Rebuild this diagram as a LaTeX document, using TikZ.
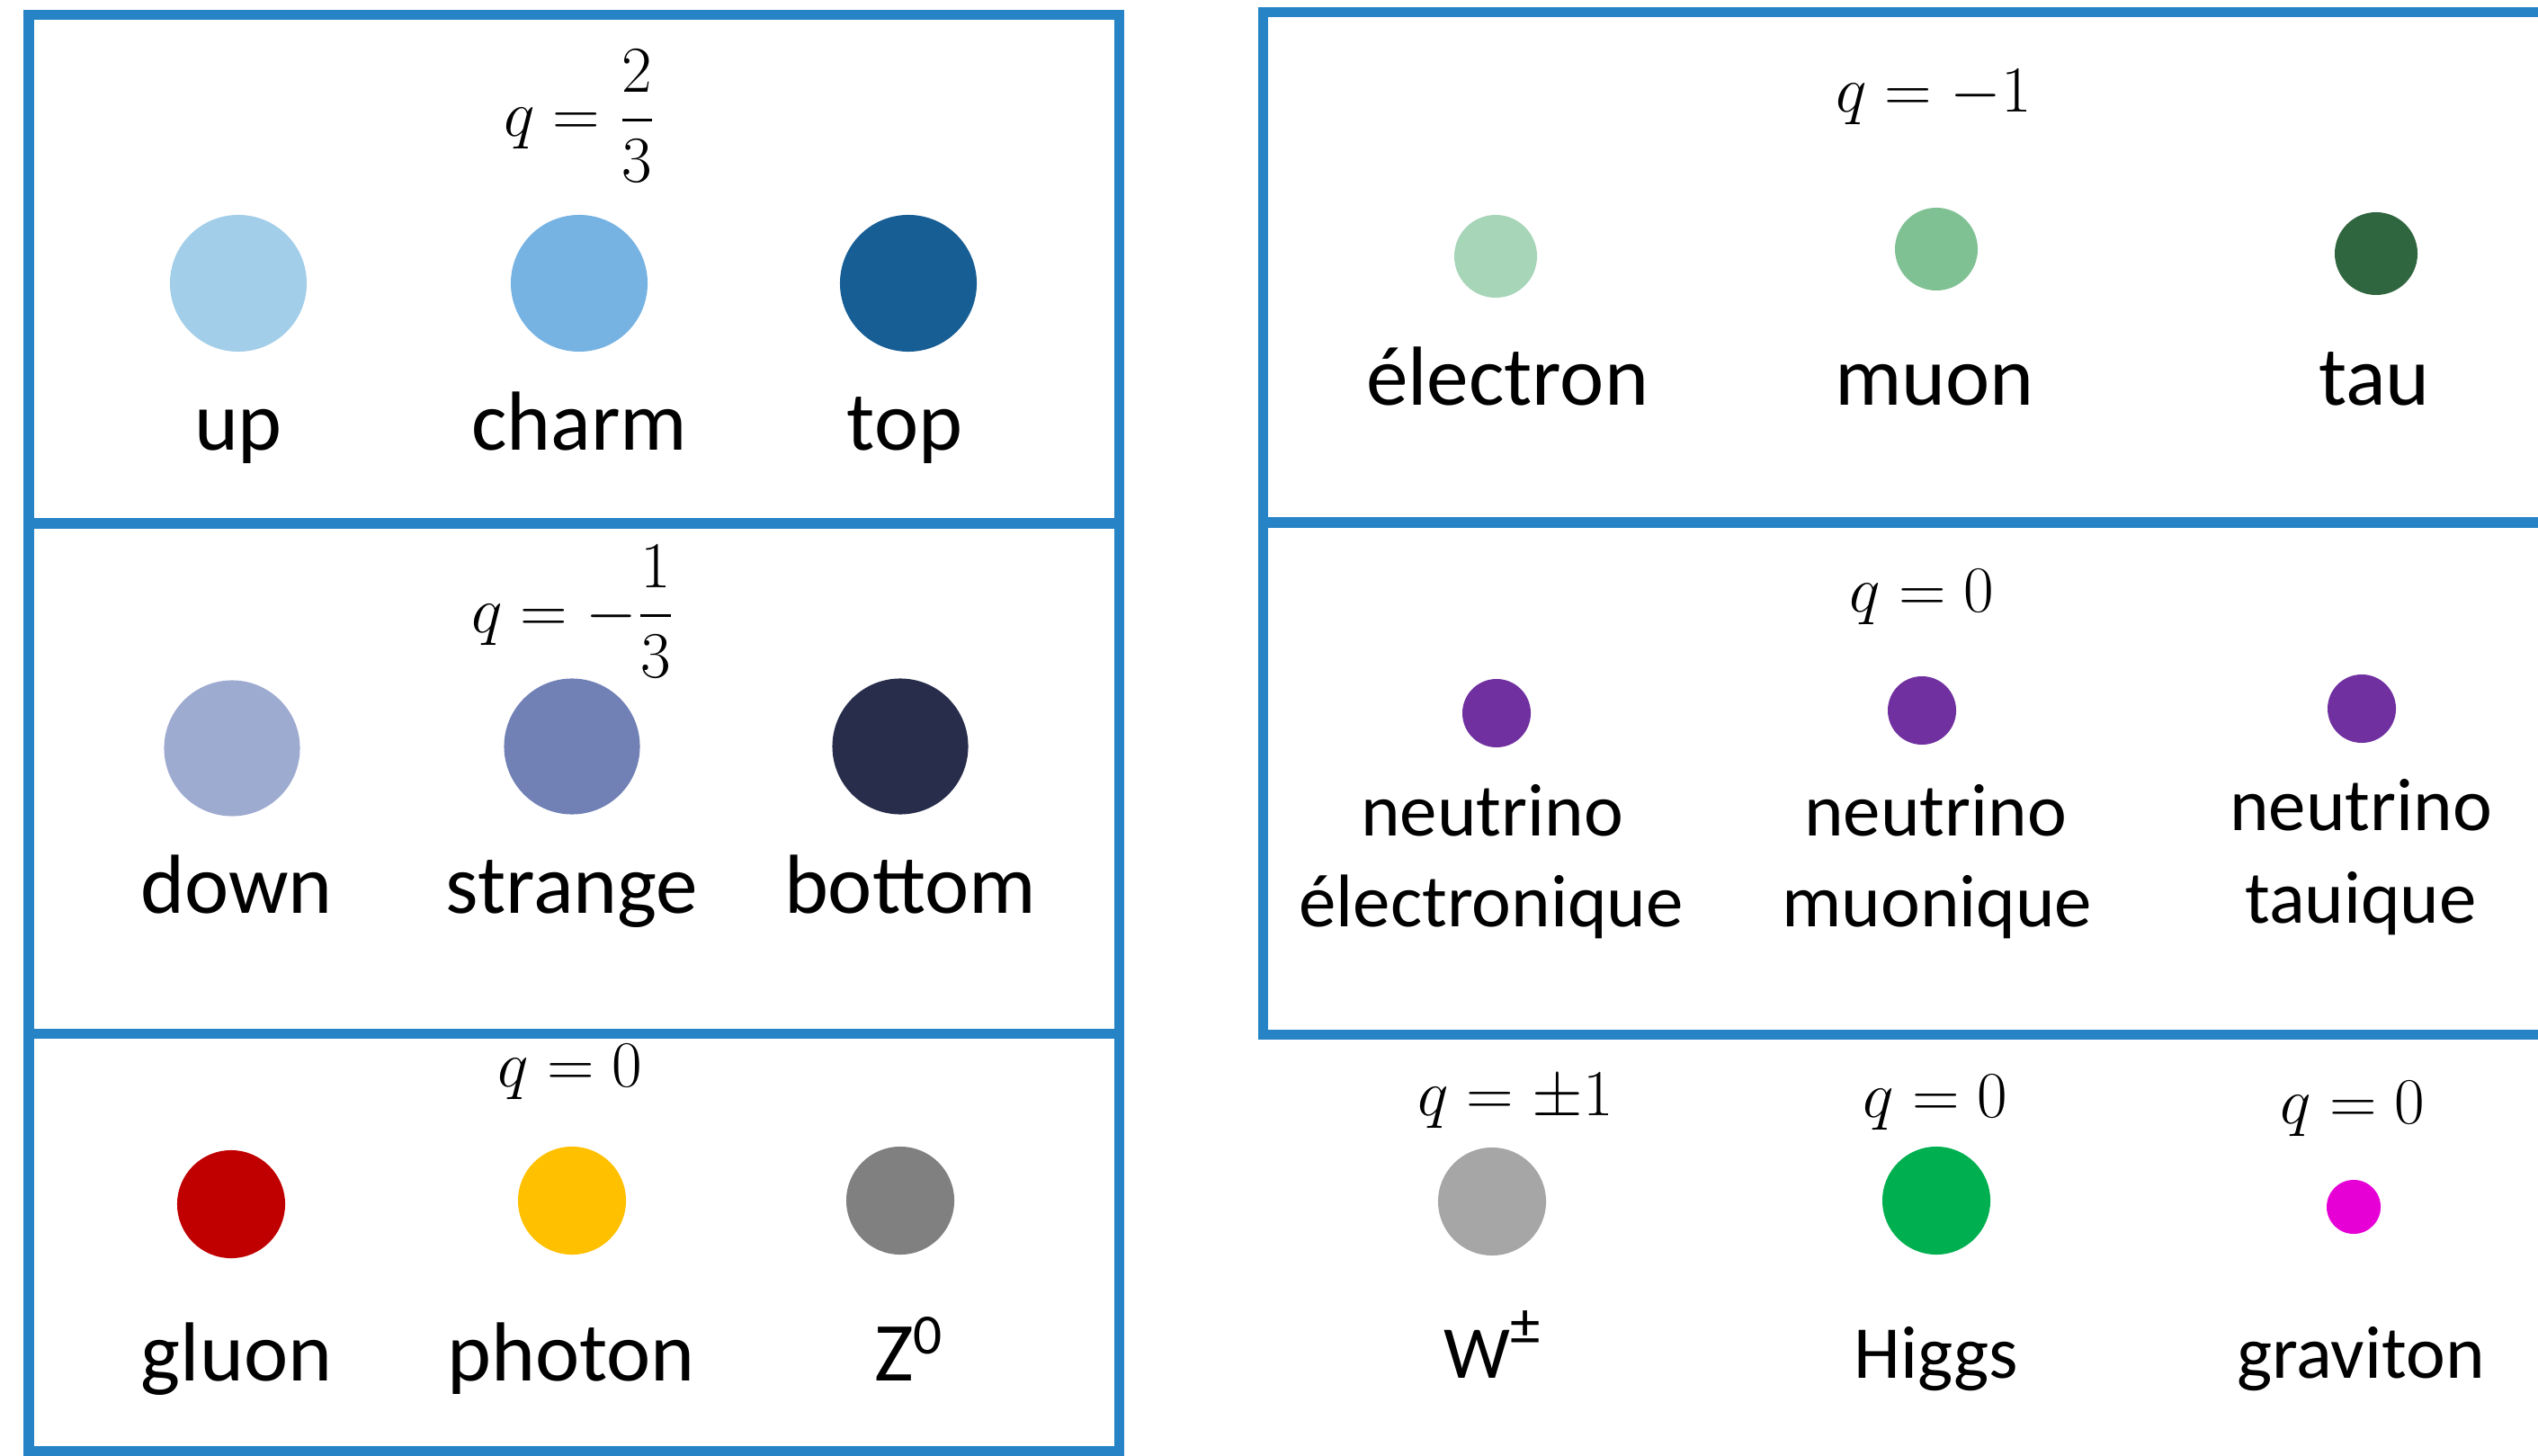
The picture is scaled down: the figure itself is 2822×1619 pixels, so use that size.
\documentclass[tikz,border=0pt]{standalone}
\usepackage{amsmath}
\usepackage{fontspec}
\setmainfont{Carlito}
\definecolor{frame}{RGB}{38,131,198}
\definecolor{cup}{RGB}{163,206,233}
\definecolor{ccharm}{RGB}{118,179,227}
\definecolor{ctop}{RGB}{23,94,149}
\definecolor{cdown}{RGB}{158,171,209}
\definecolor{cstrange}{RGB}{113,129,182}
\definecolor{cbottom}{RGB}{40,45,76}
\definecolor{cgluon}{RGB}{192,0,0}
\definecolor{cphoton}{RGB}{255,192,0}
\definecolor{cz}{RGB}{128,128,128}
\definecolor{celec}{RGB}{167,213,184}
\definecolor{cmuon}{RGB}{128,193,148}
\definecolor{ctau}{RGB}{48,102,63}
\definecolor{cnu}{RGB}{112,48,160}
\definecolor{cw}{RGB}{166,166,166}
\definecolor{chiggs}{RGB}{0,176,80}
\definecolor{cgrav}{RGB}{230,0,214}
\tikzset{
  boxline/.style={draw=frame,line width=0.11cm},
  ball/.style={circle,inner sep=0pt,minimum size=#1},
  lbl/.style={anchor=base,inner sep=0pt,font=\fontsize{26.5}{32}\selectfont},
  slbl/.style={anchor=base,inner sep=0pt,font=\fontsize{23.6}{28}\selectfont},
  charge/.style={anchor=base,inner sep=0pt,font=\fontsize{22.5}{26}\selectfont}
}
\begin{document}
\begin{tikzpicture}[x=0.01cm,y=-0.01cm]
\useasboundingbox (0,0) rectangle (2822,1619);
\clip (0,0) rectangle (2822,1619);
% frames
\draw[boxline] (32,17) rectangle (1244,582);
\draw[boxline] (32,582) rectangle (1244,1149);
\draw[boxline] (32,1149) rectangle (1244,1613);
\draw[boxline] (1404,14) rectangle (2850,581);
\draw[boxline] (1404,581) rectangle (2850,1150);
% up-type quarks
\node[charge] (q1) at (645,152) {$q=\dfrac{2}{3}$};
\node[ball=1.52cm,fill=cup] (up) at (265,315) {};
\node[ball=1.52cm,fill=ccharm] (charm) at (644,315) {};
\node[ball=1.52cm,fill=ctop] (top) at (1010,315) {};
\node[lbl] (lup) at (265,501) {up};
\node[lbl] (lcharm) at (644,501) {charm};
\node[lbl] (ltop) at (1006,501) {top};
% down-type quarks
\node[charge] (q2) at (637,703) {$q=-\dfrac{1}{3}$};
\node[ball=1.51cm,fill=cdown] (down) at (258,832) {};
\node[ball=1.51cm,fill=cstrange] (strange) at (636,830) {};
\node[ball=1.51cm,fill=cbottom] (bottom) at (1001,830) {};
\node[lbl] (ldown) at (263,1015) {down};
\node[lbl] (lstrange) at (636,1015) {strange};
\node[lbl] (lbottom) at (1012,1015) {bottom};
% gauge bosons
\node[charge] (q3) at (634,1208) {$q=0$};
\node[ball=1.2cm,fill=cgluon] (gluon) at (257,1339) {};
\node[ball=1.2cm,fill=cphoton] (photon) at (636,1335) {};
\node[ball=1.2cm,fill=cz] (z) at (1001,1335) {};
\node[lbl] (lgluon) at (263,1535) {gluon};
\node[lbl] (lphoton) at (635,1535) {photon};
\node[lbl] (lz) at (1010,1535) {Z\raisebox{8.5pt}{\fontsize{18}{18}\selectfont 0}};
% charged leptons
\node[charge] (q4) at (2150,125) {$q=-1$};
\node[ball=0.92cm,fill=celec] (elec) at (1663,285) {};
\node[ball=0.92cm,fill=cmuon] (muon) at (2153,277) {};
\node[ball=0.92cm,fill=ctau] (tau) at (2642,282) {};
\node[lbl] (lelec) at (1676,451) {électron};
\node[lbl] (lmuon) at (2151,451) {muon};
\node[lbl] (ltau) at (2640,451) {tau};
% neutrinos
\node[charge] (q5) at (2137,680) {$q=0$};
\node[ball=0.76cm,fill=cnu] (nue) at (1664,793) {};
\node[ball=0.76cm,fill=cnu] (num) at (2137,790) {};
\node[ball=0.76cm,fill=cnu] (nut) at (2626,788) {};
\node[slbl] (lnue1) at (1659,929) {neutrino};
\node[slbl] (lnue2) at (1658,1030) {électronique};
\node[slbl] (lnum1) at (2152,929) {neutrino};
\node[slbl] (lnum2) at (2154,1030) {muonique};
\node[slbl] (lnut1) at (2625,923) {neutrino};
\node[slbl] (lnut2) at (2625,1026) {tauique};
% other bosons
\node[charge] (q6) at (1685,1240) {$q=\pm1$};
\node[charge] (q7) at (2152,1242) {$q=0$};
\node[charge] (q8) at (2616,1249) {$q=0$};
\node[ball=1.2cm,fill=cw] (w) at (1659,1336) {};
\node[ball=1.2cm,fill=chiggs] (higgs) at (2153,1335) {};
\node[ball=0.6cm,fill=cgrav] (grav) at (2617,1342) {};
\node[slbl] (lw) at (1659,1532) {W\raisebox{10.5pt}{\fontsize{19}{19}\selectfont ±}};
\node[slbl] (lhiggs) at (2153,1532) {Higgs};
\node[slbl] (lgrav) at (2625,1532) {graviton};
\end{tikzpicture}
\end{document}
